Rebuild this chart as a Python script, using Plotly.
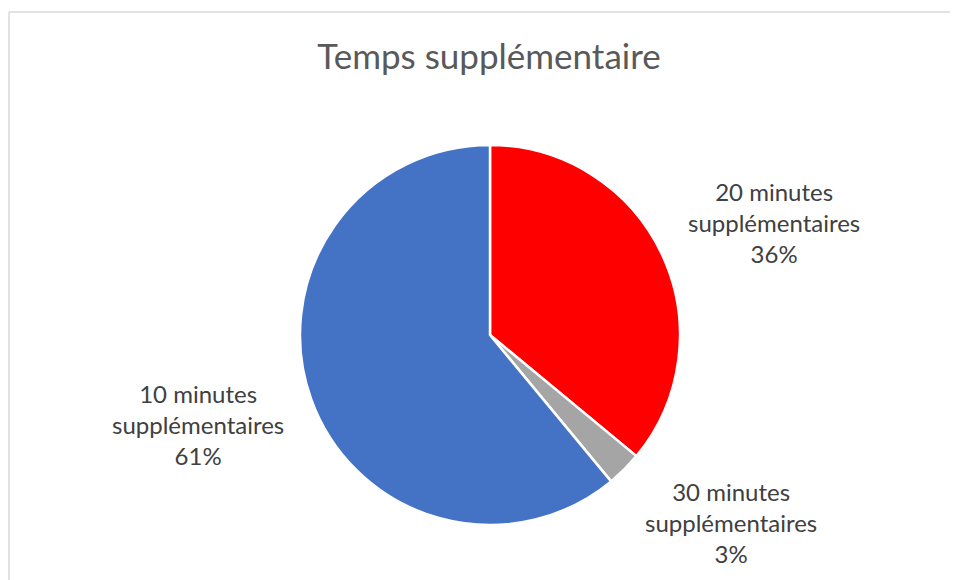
import math
import plotly.graph_objects as go

# data
categories = ["20 minutes supplémentaires", "30 minutes supplémentaires", "10 minutes supplémentaires"]
shares = [36, 3, 61]
colors = ["#FF0000", "#A5A5A5", "#4472C4"]
title_text = "Temps supplémentaire"

W, H = 958, 580
OFF = 8  # page body margin
CX, CY, R = 490 - OFF, 335 - OFF, 190  # pie centre / radius in pixels


def px(x):
    return x / W


def py(y):
    return 1 - y / H


fig = go.Figure(go.Pie(
    labels=categories,
    values=shares,
    sort=False,
    direction="clockwise",
    rotation=0,
    marker=dict(colors=colors, line=dict(color="white", width=2.5)),
    textinfo="none",
    hoverinfo="label+percent",
    showlegend=False,
    domain=dict(x=[px(CX - R), px(CX + R)], y=[py(CY + R), py(CY - R)]),
))

# outside labels placed at each slice's mid angle
total = sum(shares)
cum = 0
box_w, box_h, gap = 170, 90, 30
for cat, v in zip(categories, shares):
    mid = (cum + v / 2) / total * 2 * math.pi
    cum += v
    s, c = math.sin(mid), math.cos(mid)
    dx = (R + gap) * s + math.copysign(box_w / 2, s)
    dy = (R + gap) * c + box_h / 2 * c
    words = cat.split(" ", 2)
    txt = f"{words[0]} {words[1]}<br>{words[2]}<br>{round(v / total * 100)}%"
    fig.add_annotation(
        x=px(CX + dx), y=py(CY - dy), xref="paper", yref="paper",
        text=txt, showarrow=False, xanchor="center", yanchor="middle",
        align="center", font=dict(family="Lato, Carlito, sans-serif", size=24, color="#404040"),
    )

# chart area border (top and left visible)
fig.add_shape(type="line", xref="paper", yref="paper",
              x0=px(9 - OFF), x1=px(957 - OFF), y0=py(12 - OFF), y1=py(12 - OFF),
              line=dict(color="#D9D9D9", width=1.5))
fig.add_shape(type="line", xref="paper", yref="paper",
              x0=px(9 - OFF), x1=px(9 - OFF), y0=py(12 - OFF), y1=0,
              line=dict(color="#D9D9D9", width=1.5))

fig.update_layout(
    width=W, height=H,
    margin=dict(l=0, r=0, t=0, b=0),
    paper_bgcolor="white", plot_bgcolor="white",
    title=dict(text=title_text, x=px(489 - OFF), xanchor="center", y=py(57 - OFF), yanchor="middle",
               font=dict(family="Lato, Carlito, sans-serif", size=35, color="#595959")),
)

fig.write_html("out.html")
